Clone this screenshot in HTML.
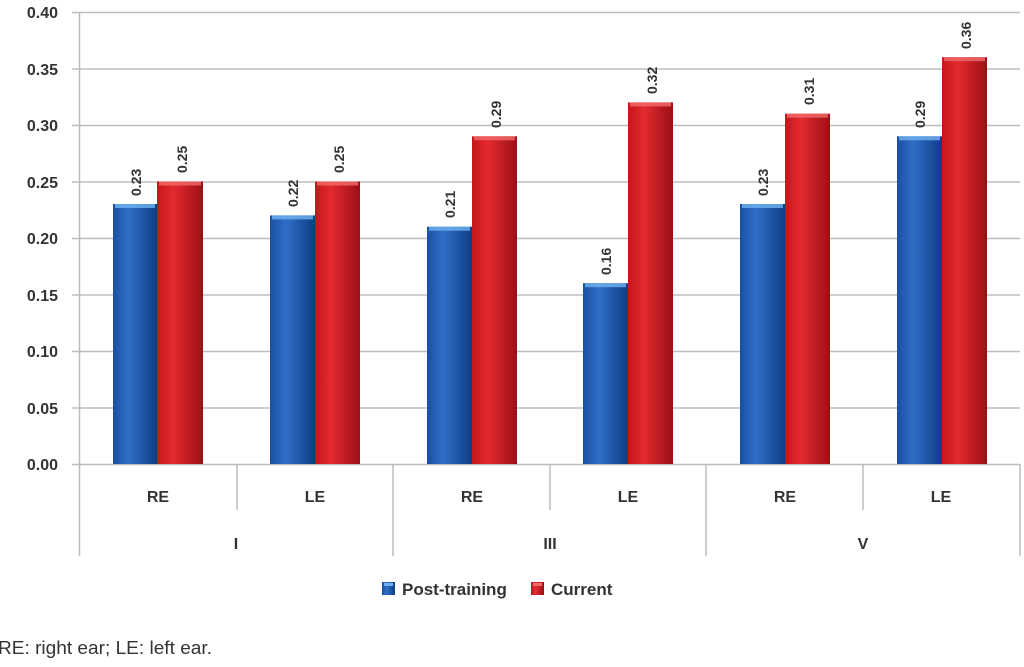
<!DOCTYPE html>
<html><head><style>
body{margin:0;background:#fff;}
svg text{font-family:"Liberation Sans",Arial,sans-serif;}
</style></head><body>
<svg width="1024" height="662" xmlns="http://www.w3.org/2000/svg">
<defs>
<linearGradient id="b" x1="0" x2="1" y1="0" y2="0">
<stop offset="0" stop-color="#1a4fa0"/><stop offset="0.35" stop-color="#2f6fc8"/><stop offset="1" stop-color="#103d85"/></linearGradient>
<linearGradient id="r" x1="0" x2="1" y1="0" y2="0">
<stop offset="0" stop-color="#c4161c"/><stop offset="0.35" stop-color="#e42a2f"/><stop offset="1" stop-color="#9a1015"/></linearGradient>
</defs>
<g stroke="#bdbdbd" stroke-width="1.5">
<line x1="72" y1="12.5" x2="1020" y2="12.5"/>
<line x1="72" y1="69" x2="1020" y2="69"/>
<line x1="72" y1="125.5" x2="1020" y2="125.5"/>
<line x1="72" y1="182" x2="1020" y2="182"/>
<line x1="72" y1="238.5" x2="1020" y2="238.5"/>
<line x1="72" y1="295" x2="1020" y2="295"/>
<line x1="72" y1="351.5" x2="1020" y2="351.5"/>
<line x1="72" y1="408" x2="1020" y2="408"/>
<line x1="72" y1="464.5" x2="1020" y2="464.5"/>
<line x1="79.5" y1="12" x2="79.5" y2="556"/>
<line x1="237" y1="464" x2="237" y2="510"/>
<line x1="393" y1="464" x2="393" y2="556"/>
<line x1="550" y1="464" x2="550" y2="510"/>
<line x1="706" y1="464" x2="706" y2="556"/>
<line x1="863" y1="464" x2="863" y2="510"/>
<line x1="1020" y1="464" x2="1020" y2="556"/>
</g>
<g font-size="16" font-weight="bold" fill="#333" text-anchor="end">
<text x="58" y="18">0.40</text><text x="58" y="75">0.35</text><text x="58" y="131">0.30</text>
<text x="58" y="188">0.25</text><text x="58" y="244">0.20</text><text x="58" y="301">0.15</text>
<text x="58" y="357">0.10</text><text x="58" y="414">0.05</text><text x="58" y="470">0.00</text>
</g>
<g>
<rect x="113" y="204" width="44" height="260" fill="url(#b)"/><rect x="157" y="181.5" width="46" height="282.5" fill="url(#r)"/>
<rect x="270" y="215.4" width="45" height="248.6" fill="url(#b)"/><rect x="315" y="181.5" width="45" height="282.5" fill="url(#r)"/>
<rect x="427" y="226.7" width="45" height="237.3" fill="url(#b)"/><rect x="472" y="136.3" width="45" height="327.7" fill="url(#r)"/>
<rect x="583" y="283.2" width="45" height="180.8" fill="url(#b)"/><rect x="628" y="102.4" width="45" height="361.6" fill="url(#r)"/>
<rect x="740" y="204" width="45" height="260" fill="url(#b)"/><rect x="785" y="113.7" width="45" height="350.3" fill="url(#r)"/>
<rect x="897" y="136.3" width="45" height="327.7" fill="url(#b)"/><rect x="942" y="57.2" width="45" height="406.8" fill="url(#r)"/>
</g>
<g fill="#6fb3f0" opacity="0.8">
<rect x="115" y="204" width="40" height="4"/><rect x="272" y="215.4" width="41" height="4"/><rect x="429" y="226.7" width="41" height="4"/>
<rect x="585" y="283.2" width="41" height="4"/><rect x="742" y="204" width="41" height="4"/><rect x="899" y="136.3" width="41" height="4"/>
</g>
<g fill="#f36a6a" opacity="0.8">
<rect x="159" y="181.5" width="42" height="4"/><rect x="317" y="181.5" width="41" height="4"/><rect x="474" y="136.3" width="41" height="4"/>
<rect x="630" y="102.4" width="41" height="4"/><rect x="787" y="113.7" width="41" height="4"/><rect x="944" y="57.2" width="41" height="4"/>
</g>
<g font-size="14" font-weight="bold" fill="#333">
<text transform="translate(141,196) rotate(-90)">0.23</text>
<text transform="translate(187,173) rotate(-90)">0.25</text>
<text transform="translate(298,207) rotate(-90)">0.22</text>
<text transform="translate(344,173) rotate(-90)">0.25</text>
<text transform="translate(455,218) rotate(-90)">0.21</text>
<text transform="translate(501,128) rotate(-90)">0.29</text>
<text transform="translate(611,275) rotate(-90)">0.16</text>
<text transform="translate(657,94) rotate(-90)">0.32</text>
<text transform="translate(768,196) rotate(-90)">0.23</text>
<text transform="translate(814,105) rotate(-90)">0.31</text>
<text transform="translate(925,128) rotate(-90)">0.29</text>
<text transform="translate(971,49) rotate(-90)">0.36</text>
</g>
<g font-size="16" font-weight="bold" fill="#333" text-anchor="middle">
<text x="158" y="502">RE</text><text x="315" y="502">LE</text>
<text x="472" y="502">RE</text><text x="628" y="502">LE</text>
<text x="785" y="502">RE</text><text x="941" y="502">LE</text>
<text x="236" y="549">I</text><text x="550" y="549">III</text><text x="863" y="549">V</text>
</g>
<rect x="382" y="582" width="13" height="13" fill="url(#b)"/>
<rect x="384" y="583" width="9" height="3" fill="#6fb3f0"/>
<text x="402" y="595" font-size="17" font-weight="bold" fill="#333">Post-training</text>
<rect x="531" y="582" width="13" height="13" fill="url(#r)"/>
<rect x="533" y="583" width="9" height="3" fill="#f36a6a"/>
<text x="551" y="595" font-size="17" font-weight="bold" fill="#333">Current</text>
<text x="-2" y="654" font-size="18" fill="#333" textLength="214" lengthAdjust="spacingAndGlyphs">RE: right ear; LE: left ear.</text>
</svg>
</body></html>
